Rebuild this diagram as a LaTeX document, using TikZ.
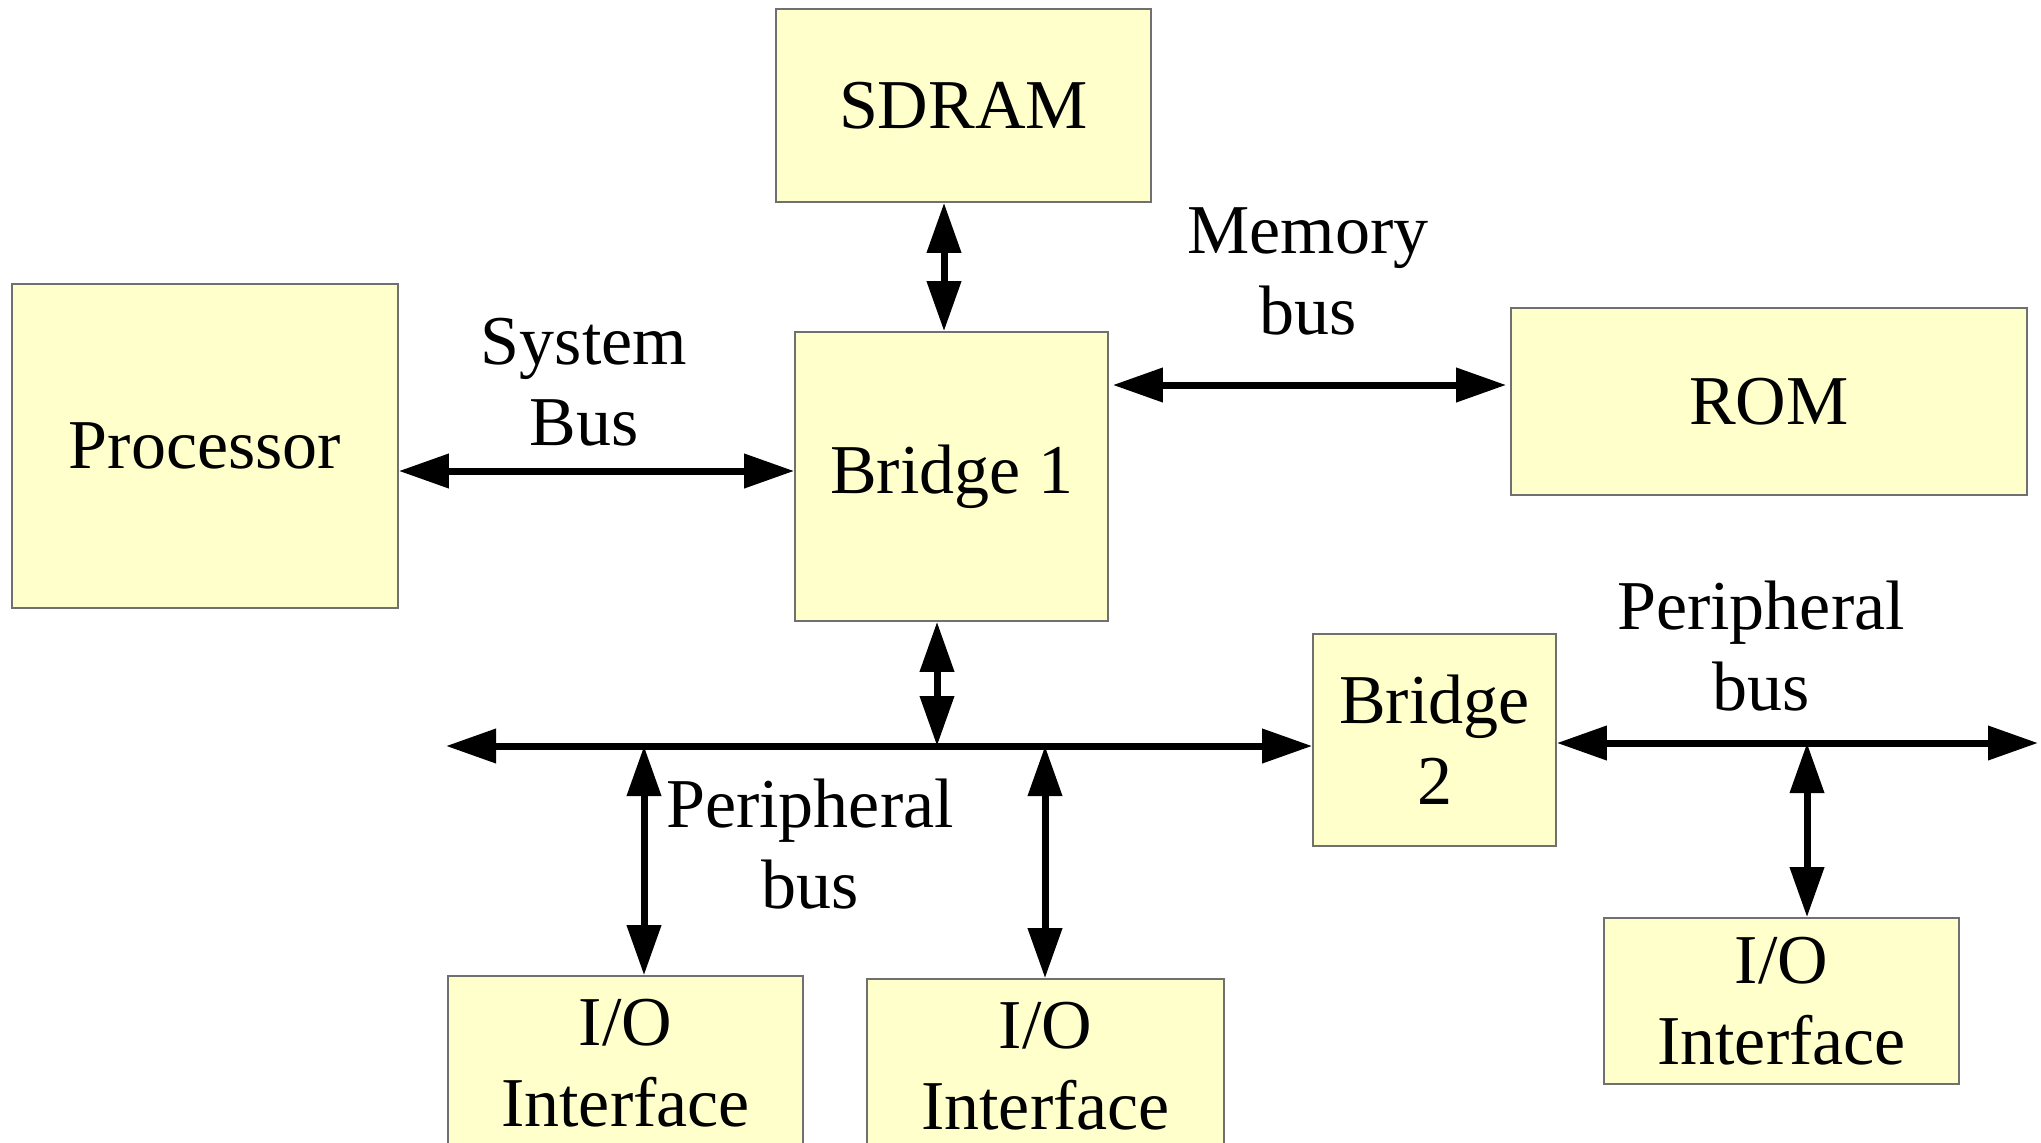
\documentclass[tikz,border=0pt]{standalone}
\usepackage{fontspec}
\setmainfont{Liberation Serif}
\usepackage{tikz}
\usetikzlibrary{arrows.meta,positioning}
\definecolor{boxfill}{HTML}{FFFFCC}
\definecolor{boxline}{HTML}{707070}

\begin{document}
\begin{tikzpicture}[x=0.5pt,y=-0.5pt]
		\tikzstyle{block}=[draw=boxline, fill=boxfill, line width=0.8pt, inner sep=0pt, align=center, font=\fontsize{35}{40.5}\selectfont]
		\tikzstyle{buslabel}=[align=center, inner sep=0pt, font=\fontsize{35}{40.5}\selectfont]
		\tikzstyle{bus}=[line width=3.5pt, {Triangle[length=25pt,width=16.5pt]}-{Triangle[length=25pt,width=16.5pt]}]
		
		\useasboundingbox (0,0) rectangle (2041,1142);
		
		% Memory side
		\node at (963.5,105.5) [block, minimum width=187.5pt, minimum height=96.5pt] (sdram) {SDRAM};
		\node at (951.5,476.5) [block, minimum width=156.5pt, minimum height=144.5pt] (bridge_1) {Bridge 1};
		\node at (1769,401.5) [block, minimum width=258pt, minimum height=93.5pt] (rom) {ROM};
		
		% Processor
		\node at (205,446) [block, minimum width=193pt, minimum height=162pt] (proc) {Processor};
		
		% Bridge 2
		\node at (1434.5,740) [block, minimum width=121.5pt, minimum height=106pt] (bridge_2) {Bridge\\2};
		
		% I/O
		\node at (625.5,1063) [block, minimum width=177.5pt, minimum height=87pt] (io_1) {I/O\\Interface};
		\node at (1045.5,1066) [block, minimum width=178.5pt, minimum height=87pt] (io_2) {I/O\\Interface};
		\node at (1781.5,1001) [block, minimum width=177.5pt, minimum height=83pt] (io_3) {I/O\\Interface};
		
		% Bus points
		\coordinate (bus_l) at (446,746);
		\coordinate (bus_r) at (2038,743);
		\coordinate (tap_b) at (937,746);
		\coordinate (tap_1) at (644,746);
		\coordinate (tap_2) at (1045,746);
		\coordinate (tap_3) at (1807,743);
		
		% System bus
		\draw [bus] (proc.east |- 0,471) -- (bridge_1.west |- 0,471);
		% SDRAM <-> Bridge 1
		\draw [bus] (sdram.south -| 944,0) -- (bridge_1.north -| 944,0);
		% Memory bus
		\draw [bus] ([xshift=2pt]bridge_1.east |- 0,385) -- ([xshift=-2pt]rom.west |- 0,385);
		
		% Peripheral bus
		\draw [bus] (bridge_1.south -| tap_b) -- (tap_b);
		\draw [bus] (bus_l) -- (bus_l -| bridge_2.west);
		\foreach \i in {1,2}
		\draw [bus] (tap_\i) -- (io_\i.north -| tap_\i);
		\draw [bus] (bridge_2.east |- bus_r) -- (bus_r);
		\draw [bus] (tap_3) -- (io_3.north -| tap_3);
		
		% Text
		\node at (584,382) [buslabel] (sys_lbl) {System\\Bus};
		\node at (1308,271) [buslabel] (mem_lbl) {Memory\\bus};
		\node at (810,844) [buslabel] (per_lbl_1) {Peripheral\\bus};
		\node at (1761,646) [buslabel] (per_lbl_2) {Peripheral\\bus};
		
\end{tikzpicture}
\end{document}
